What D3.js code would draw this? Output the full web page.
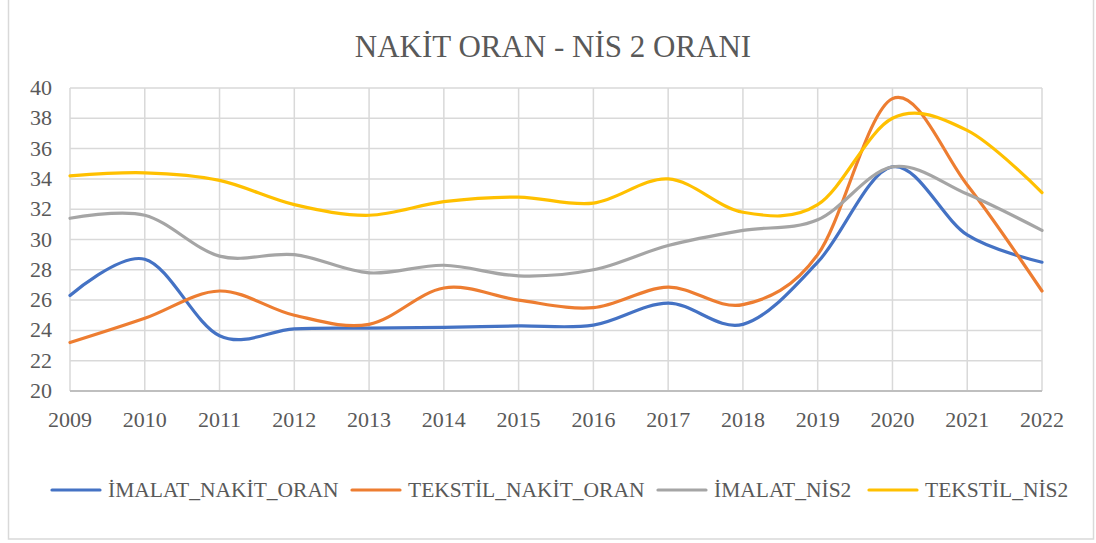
<!DOCTYPE html>
<meta charset="utf-8">
<script src="https://d3js.org/d3.v7.min.js"></script>
<div id="chart"></div>
<script>
// data
var years = [2009, 2010, 2011, 2012, 2013, 2014, 2015, 2016, 2017, 2018, 2019, 2020, 2021, 2022];
var imalatNakit  = [26.3, 28.7, 23.65, 24.1, 24.15, 24.2, 24.3, 24.35, 25.8, 24.4, 28.5, 34.8, 30.3, 28.5];
var tekstilNakit = [23.2, 24.8, 26.6, 25.0, 24.4, 26.8, 26.0, 25.5, 26.85, 25.7, 29.0, 39.3, 33.6, 26.6];
var imalatNis2   = [31.4, 31.6, 28.9, 29.0, 27.8, 28.3, 27.6, 28.0, 29.6, 30.6, 31.3, 34.8, 33.0, 30.6];
var tekstilNis2  = [34.2, 34.4, 33.9, 32.3, 31.6, 32.5, 32.8, 32.4, 34.0, 31.8, 32.3, 38.0, 37.2, 33.1];
var yTicks = [20, 22, 24, 26, 28, 30, 32, 34, 36, 38, 40];
var seriesNames = ["İMALAT_NAKİT_ORAN", "TEKSTİL_NAKİT_ORAN", "İMALAT_NİS2", "TEKSTİL_NİS2"];
var colors = ["#4472C4", "#ED7D31", "#A5A5A5", "#FFC000"];

var width = 1096, height = 543;
d3.select("body").style("margin", "0px");
var svg = d3.select("#chart").append("svg").attr("width", width).attr("height", height)
  .style("display", "block");

// outer frame
svg.append("rect").attr("x", 8.5).attr("y", -2).attr("width", 1085).attr("height", 541)
  .attr("fill", "#fff").attr("stroke", "#d9d9d9").attr("stroke-width", 1.5);

var x = d3.scaleLinear().domain([2009, 2022]).range([70, 1042]);
var y = d3.scaleLinear().domain([20, 40]).range([391, 88]);

// gridlines
svg.append("g").selectAll("line").data(yTicks.slice(1)).enter().append("line")
  .attr("x1", x(2009)).attr("x2", x(2022))
  .attr("y1", function(d) { return y(d); }).attr("y2", function(d) { return y(d); })
  .attr("stroke", "#d9d9d9").attr("stroke-width", 1.5);
svg.append("g").selectAll("line").data(years).enter().append("line")
  .attr("x1", function(d) { return x(d); }).attr("x2", function(d) { return x(d); })
  .attr("y1", y(40)).attr("y2", y(20))
  .attr("stroke", "#d9d9d9").attr("stroke-width", 1.5);
// bottom axis line
svg.append("line").attr("x1", x(2009)).attr("x2", x(2022)).attr("y1", y(20)).attr("y2", y(20))
  .attr("stroke", "#bfbfbf").attr("stroke-width", 2);

// tick labels
svg.append("g").selectAll("text").data(yTicks).enter().append("text")
  .attr("x", 52).attr("y", function(d) { return y(d) + 7; })
  .attr("text-anchor", "end")
  .style("font-family", "Liberation Serif").style("font-size", "22px").style("fill", "#595959")
  .text(function(d) { return d; });
svg.append("g").selectAll("text").data(years).enter().append("text")
  .attr("x", function(d) { return x(d); }).attr("y", 427)
  .attr("text-anchor", "middle")
  .style("font-family", "Liberation Serif").style("font-size", "22px").style("fill", "#595959")
  .text(function(d) { return d; });

// title
svg.append("text").attr("x", 553).attr("y", 57).attr("text-anchor", "middle")
  .style("font-family", "Liberation Serif").style("font-size", "31px").style("fill", "#595959")
  .text("NAKİT ORAN - NİS 2 ORANI");

// lines
var data = [imalatNakit, tekstilNakit, imalatNis2, tekstilNis2];
var line = d3.line()
  .x(function(d, i) { return x(years[i]); })
  .y(function(d) { return y(d); })
  .curve(d3.curveCardinal.tension(0));

data.forEach(function(vals, i) {
  svg.append("path").datum(vals)
    .attr("d", line).attr("fill", "none")
    .attr("stroke", colors[i]).attr("stroke-width", 3.2)
    .attr("stroke-linecap", "round");
});

// legend
var legendX = [52, 352, 658, 869];
var lg = svg.append("g").selectAll("g").data(seriesNames).enter().append("g")
  .attr("transform", function(d, i) { return "translate(" + legendX[i] + ",490)"; });
lg.append("line").attr("x1", 0).attr("x2", 48).attr("y1", 0).attr("y2", 0)
  .attr("stroke", function(d, i) { return colors[i]; }).attr("stroke-width", 3.2)
  .attr("stroke-linecap", "round");
lg.append("text").attr("x", 56).attr("y", 7)
  .style("font-family", "Liberation Serif").style("font-size", "21.5px").style("fill", "#595959")
  .text(function(d) { return d; });
</script>
